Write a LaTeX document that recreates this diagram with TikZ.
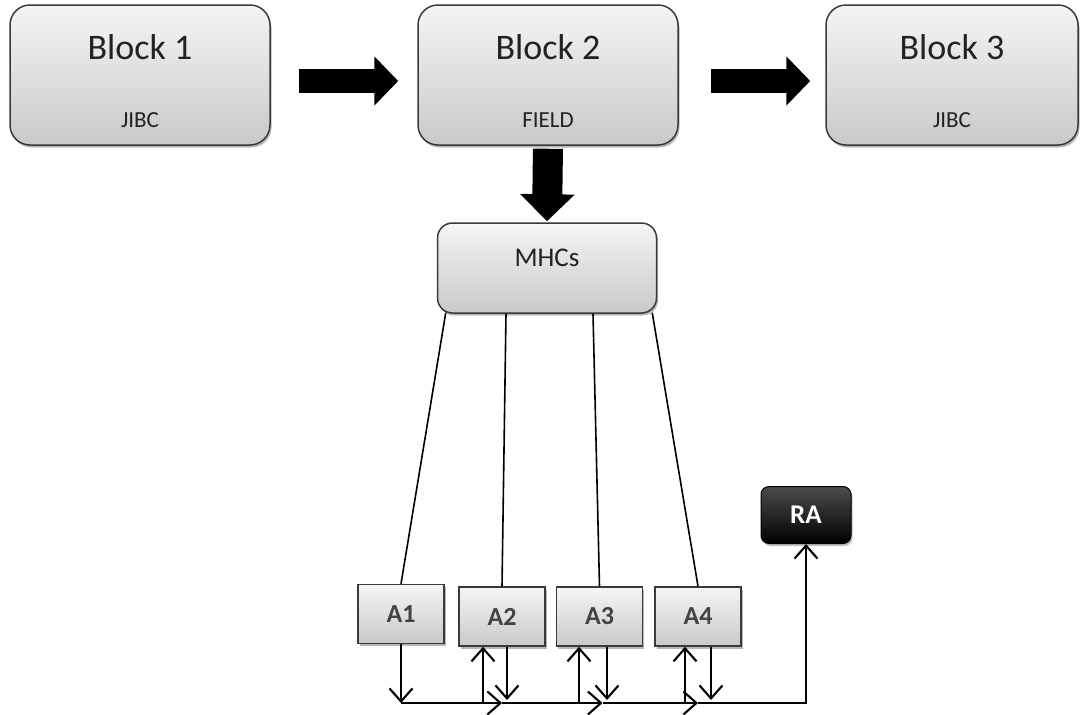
\documentclass[tikz,border=0pt]{standalone}
\usepackage{fontspec}
\setmainfont{Carlito}
\usetikzlibrary{arrows.meta,calc,shadows}
\definecolor{boxtop}{HTML}{F5F5F5}
\definecolor{boxbot}{HTML}{C9C9C9}
\definecolor{edge}{HTML}{3A3A3A}
\definecolor{ink}{HTML}{222222}
\begin{document}
\begin{tikzpicture}[x=1pt,y=-1pt,
  box/.style={draw=edge, line width=1.5pt, top color=boxtop, bottom color=boxbot,
    inner sep=0pt, drop shadow={shadow xshift=1.5pt, shadow yshift=-2.5pt, opacity=0.28, fill=black}},
  block/.style={box, rounded corners=20pt, minimum width=260pt, minimum height=140pt},
  hub/.style={box, rounded corners=15pt, minimum width=219pt, minimum height=90pt},
  agent/.style={box, minimum width=86pt, minimum height=59pt,
    font=\bfseries\fontsize{26}{28}\selectfont, text=ink!85},
  rabox/.style={draw=black, line width=1pt, top color=black!70, bottom color=black,
    rounded corners=8pt, minimum width=90pt, minimum height=57pt, inner sep=0pt,
    font=\bfseries\fontsize{27}{29}\selectfont, text=white,
    drop shadow={shadow xshift=1.5pt, shadow yshift=-2.5pt, opacity=0.25, fill=black}},
  title/.style={anchor=base, font=\fontsize{36}{40}\selectfont, text=ink},
  sub/.style={anchor=base, font=\fontsize{23}{26}\selectfont, text=ink},
  hubtext/.style={anchor=base, font=\fontsize{27}{30}\selectfont, text=ink},
  fat/.style={draw=black, line width=24pt, -{Triangle[length=24pt, width=48pt]}},
  wire/.style={draw=black, line width=1.6pt},
  tip/.style={draw=black, line width=2.1pt, -{Straight Barb[length=13pt, width=23pt]}},
]
\useasboundingbox (0,0) rectangle (1082,715);

% top row of blocks
\node[block] (b1) at (140,75) {};
\node[block] (b2) at (548,75) {};
\node[block, minimum width=252pt] (b3) at (952,75) {};
\foreach \b/\t/\s in {b1/Block 1/JIBC, b2/Block 2/FIELD, b3/Block 3/JIBC}{
  \node[title] at ($(\b.north)+(0,55)$) {\t};
  \node[sub]   at ($(\b.north)+(0,123)$) {\s};
}

% hub box
\node[hub] (m) at (547,268) {};
\node[hubtext] at ($(m.north)+(0,44)$) {MHCs};

% agent boxes
\node[agent] (a1) at (401,614)   {A1};
\node[agent] (a2) at (502,616.5) {A2};
\node[agent] (a3) at (599.5,616.5) {A3};
\node[agent] (a4) at (698,616.5) {A4};

% result box
\node[rabox] (ra) at (806,515) {RA};

% thick block arrows
\draw[fat, shorten <=28pt, shorten >=19pt] ([yshift=-6pt]b1.east) -- ([yshift=-6pt]b2.west);
\draw[fat, shorten <=32pt, shorten >=15pt] ([yshift=-6pt]b2.east) -- ([yshift=-6pt]b3.west);
\draw[fat, line width=30pt, -{Triangle[length=27pt, width=53pt]}, shorten <=3pt, shorten >=1pt]
  (b2.south) -- (m.north);

% hub to agents
\draw[wire] ($(m.south west)+(9,-1)$) -- (a1.north);
\draw[wire] ($(m.south)+(-41,0)$) -- (a2.north);
\draw[wire] ($(m.south)+(46,0)$) -- (a3.north);
\draw[wire] ($(m.south east)+(-5,-1)$) -- (a4.north);

% shared bus
\coordinate (bus) at (0,703);
\draw[tip] (a1.south) -- (a1.south |- bus);
\draw[tip] (a1.south |- bus) -- (a2.south |- bus);
\draw[tip] (a2.south |- bus) -- ($(a3.south |- bus)+(3,0)$);
\draw[tip] ($(a3.south |- bus)+(3,0)$) -- (a4.south |- bus);
\draw[tip] (a4.south |- bus) -| (ra.south);

% agent links to the bus
\draw[tip] ($(a2.south |- bus)+(-19,0)$) -- ($(a2.south)+(-19,0)$);
\draw[tip] ($(a2.south)+(5,0)$) -- ($(a2.south |- bus)+(5,-3)$);
\draw[tip] ($(a3.south |- bus)+(-20.5,0)$) -- ($(a3.south)+(-20.5,0)$);
\draw[tip] ($(a3.south)+(7.5,0)$) -- ($(a3.south |- bus)+(7.5,-3)$);
\draw[tip] ($(a4.south |- bus)+(-13,0)$) -- ($(a4.south)+(-13,0)$);
\draw[tip] ($(a4.south)+(13,0)$) -- ($(a4.south |- bus)+(13,-3)$);
\end{tikzpicture}
\end{document}
